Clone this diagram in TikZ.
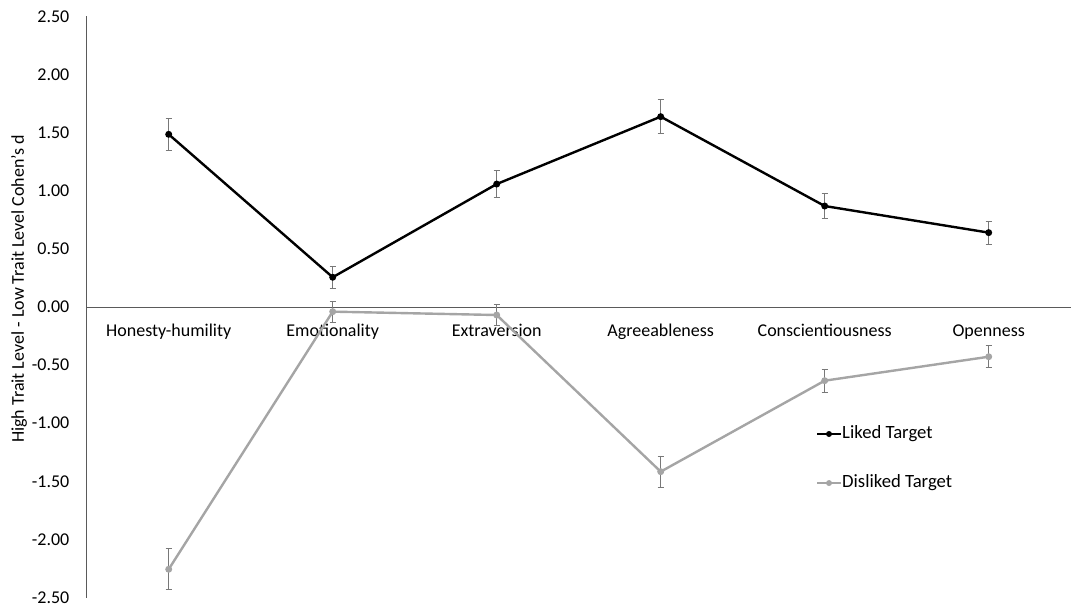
\documentclass[tikz,border=0pt]{standalone}
\usepackage{fontspec}
\setmainfont{Carlito}
\usetikzlibrary{positioning, calc}
\definecolor{likedcol}{RGB}{0,0,0}
\definecolor{dislikedcol}{RGB}{165,165,165}
\definecolor{barcol}{RGB}{120,120,120}
\definecolor{axiscol}{RGB}{90,90,90}

\begin{document}
\begin{tikzpicture}[
        x=1pt, y=116.2pt,
        font=\fontsize{18}{21}\selectfont,
        ticklab/.style={anchor=east, inner sep=0pt},
        catlab/.style={anchor=base, inner sep=0pt},
        axisline/.style={axiscol, line width=0.9pt},
        liked/.style={likedcol, line width=2.4pt, line join=round},
        disliked/.style={dislikedcol, line width=2.4pt, line join=round},
        errbar/.style={barcol, line width=0.9pt},
        dot/.style={circle, fill, inner sep=0pt, minimum size=7pt},
        legtext/.style={anchor=west, inner sep=1pt, font=\fontsize{18.7}{22}\selectfont}
    ]
    \useasboundingbox (-86.7,2.642) rectangle (986.3,-2.651);

    % axes
    \coordinate (yTop) at (0,2.5);
    \coordinate (yBot) at (0,-2.5);
    \coordinate (xEnd) at (984,0);
    \draw[axisline] (yTop) -- (yBot);
    \draw[axisline] (0,0) -- (xEnd);

    % tick labels
    \foreach \lab/\v in {2.50/2.5, 2.00/2, 1.50/1.5, 1.00/1, 0.50/0.5, 0.00/0,
                         -0.50/-0.5, -1.00/-1, -1.50/-1.5, -2.00/-2, -2.50/-2.5}
        \node[ticklab] (tick\v) at (-17.2,\v) {\lab};

    \node[rotate=90] (yLabel) at (-67.7,0.155) {High Trait Level - Low Trait Level Cohen's d};

    % categories
    \foreach \i/\name in {1/Honesty-humility, 2/Emotionality, 3/Extraversion,
                          4/Agreeableness, 5/Conscientiousness, 6/Openness}
        \node[catlab] (cat\i) at ({82+164*(\i-1)},-0.257) {\name};

    % data points
    \foreach \i/\v/\e in {1/1.486/0.136, 2/0.256/0.093, 3/1.058/0.116,
                          4/1.638/0.148, 5/0.869/0.110, 6/0.640/0.100} {
        \coordinate (L\i) at ({82+164*(\i-1)},\v);
        \draw[errbar] ($(L\i)+(0,\e)$) -- ($(L\i)-(0,\e)$);
        \draw[errbar] ($(L\i)+(-3,\e)$) -- ($(L\i)+(3,\e)$);
        \draw[errbar] ($(L\i)+(-3,-\e)$) -- ($(L\i)+(3,-\e)$);
    }
    \foreach \i/\v/\e in {1/-2.257/0.176, 2/-0.040/0.090, 3/-0.069/0.088,
                          4/-1.417/0.135, 5/-0.634/0.100, 6/-0.428/0.095} {
        \coordinate (D\i) at ({82+164*(\i-1)},\v);
        \draw[errbar] ($(D\i)+(0,\e)$) -- ($(D\i)-(0,\e)$);
        \draw[errbar] ($(D\i)+(-3,\e)$) -- ($(D\i)+(3,\e)$);
        \draw[errbar] ($(D\i)+(-3,-\e)$) -- ($(D\i)+(3,-\e)$);
    }

    % series
    \draw[disliked] (D1) -- (D2) -- (D3) -- (D4) -- (D5) -- (D6);
    \draw[liked] (L1) -- (L2) -- (L3) -- (L4) -- (L5) -- (L6);
    \foreach \i in {1,...,6} {
        \node[dot, dislikedcol] at (D\i) {};
        \node[dot, likedcol] at (L\i) {};
    }

    % legend
    \coordinate (legLikedS) at (730.3,-1.093);
    \node[legtext] (legLiked) at (754.3,-1.093) {Liked Target};
    \draw[liked] (legLikedS) -- (legLiked.west);
    \node[dot, likedcol, minimum size=6pt] at ($(legLikedS)!0.5!(legLiked.west)$) {};

    \coordinate (legDislikedS) at (730.3,-1.515);
    \node[legtext] (legDisliked) at (754.3,-1.515) {Disliked Target};
    \draw[disliked] (legDislikedS) -- (legDisliked.west);
    \node[dot, dislikedcol, minimum size=6pt] at ($(legDislikedS)!0.5!(legDisliked.west)$) {};

\end{tikzpicture}
\end{document}
